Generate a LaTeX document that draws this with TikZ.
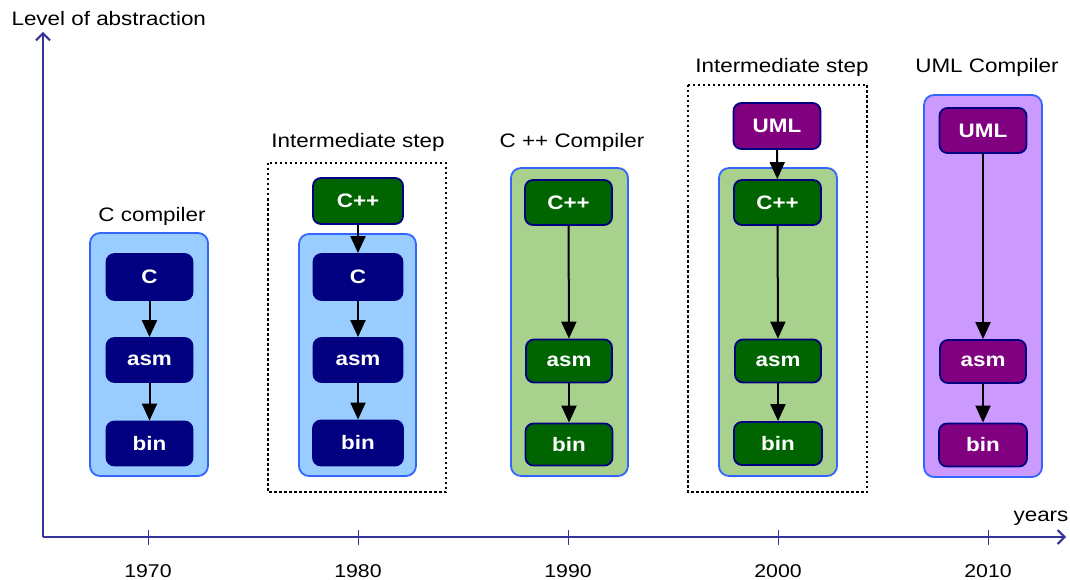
\documentclass[tikz,border=0pt]{standalone}
\usepackage{fontspec}
\setmainfont{Liberation Sans}[FakeStretch=1.15]
\usetikzlibrary{arrows.meta}
\definecolor{navyc}{HTML}{000080}
\definecolor{greenc}{HTML}{006400}
\definecolor{purplec}{HTML}{800080}
\definecolor{borderc}{HTML}{3366FF}
\definecolor{bluebg}{HTML}{99CCFF}
\definecolor{greenbg}{HTML}{A9D18E}
\definecolor{purplebg}{HTML}{CC99FF}
\definecolor{axisc}{HTML}{333399}
\tikzset{
  nd/.style={draw=navyc, line width=1.8pt, rounded corners=8pt, text=white,
    font=\bfseries\fontsize{19.5}{22}\selectfont, minimum width=87pt, minimum height=45pt, inner sep=0pt},
  ndblue/.style={nd, fill=navyc},
  ndgreen/.style={nd, fill=greenc},
  ndpurple/.style={nd, fill=purplec},
  cont/.style={draw=borderc, line width=1.8pt, rounded corners=10pt},
  dashbox/.style={draw=black, line width=1.3pt, dash pattern=on 2.5pt off 2.5pt},
  lbl/.style={font=\fontsize{19.5}{22}\selectfont, text=black},
  yearlbl/.style={font=\fontsize{18.5}{20}\selectfont, text=black, anchor=base, inner sep=0pt},
  flow/.style={draw=black, line width=2pt, -{Triangle[length=17pt,width=15pt]}},
  axis/.style={draw=axisc, line width=2pt, -{Straight Barb[length=7pt,width=14pt]}},
  tick/.style={draw=axisc, line width=0.9pt}
}
\begin{document}
\begin{tikzpicture}[x=1pt,y=-1pt]
\useasboundingbox (0,0) rectangle (1070,580);

% axes
\coordinate (origin) at (43,537);
\coordinate (ytop) at (43,32);
\coordinate (xend) at (1066,537);
\draw[axis] (origin) -- (ytop);
\draw[axis] (origin) -- (xend);
\node[lbl, anchor=west] (ylabel) at (8,19) {Level of abstraction};
\node[lbl] (xlabel) at (1041,518) {years};
\foreach \x/\y in {148/1970,358/1980,568/1990,778/2000,988/2010}{
  \draw[tick] (\x,530) -- (\x,545);
  \node[yearlbl] (yr\y) at (\x,577) {\y};
}

% 1970
\draw[cont, fill=bluebg] (90,233) rectangle (208,476);
\node[lbl] (l1) at (152,216) {C compiler};
\node[ndblue, minimum width=86pt, minimum height=46pt] (c1) at (149.5,277) {C};
\node[ndblue, minimum width=86pt, minimum height=44pt] (a1) at (149.5,360) {asm};
\node[ndblue, minimum width=86pt, minimum height=44pt] (b1) at (149.5,443.5) {bin};
\draw[flow] (c1) -- (a1);
\draw[flow] (a1) -- (b1);

% 1980
\draw[dashbox] (268,163) rectangle (446,492);
\node[lbl] (l2) at (358,142) {Intermediate step};
\draw[cont, fill=bluebg] (299,234) rectangle (416,476);
\node[ndgreen, minimum width=90pt, minimum height=46pt] (p2) at (358,201) {C++};
\node[ndblue, minimum width=89pt, minimum height=46pt] (c2) at (358,277) {C};
\node[ndblue, minimum width=89pt, minimum height=44pt] (a2) at (358,360) {asm};
\node[ndblue, minimum width=90pt, minimum height=45pt] (b2) at (358,443) {bin};
\draw[flow] (p2) -- (c2);
\draw[flow] (c2) -- (a2);
\draw[flow] (a2) -- (b2);

% 1990
\draw[cont, fill=greenbg] (511,168) rectangle (628,476);
\node[lbl] (l3) at (572,142) {C ++ Compiler};
\node[ndgreen, minimum width=87pt, minimum height=45pt] (p3) at (568.5,202.5) {C++};
\node[ndgreen, minimum width=86pt, minimum height=43pt] (a3) at (569,361) {asm};
\node[ndgreen, minimum width=87pt, minimum height=42pt] (b3) at (569,444.5) {bin};
\draw[flow] (p3) -- (a3);
\draw[flow] (a3) -- (b3);

% 2000
\draw[dashbox] (688,85) rectangle (867,492);
\node[lbl] (l4) at (782,67) {Intermediate step};
\draw[cont, fill=greenbg] (719,168) rectangle (837,476);
\node[ndpurple, minimum width=87pt, minimum height=46pt] (u4) at (777,126) {UML};
\node[ndgreen, minimum width=87pt, minimum height=45pt] (p4) at (777.5,202.5) {C++};
\node[ndgreen, minimum width=86pt, minimum height=43pt] (a4) at (778,361) {asm};
\node[ndgreen, minimum width=88pt, minimum height=43pt] (b4) at (778,443.5) {bin};
\draw[flow] (u4) -- (p4);
\draw[flow] (p4) -- (a4);
\draw[flow] (a4) -- (b4);

% 2010
\draw[cont, fill=purplebg] (924,95) rectangle (1042,477);
\node[lbl] (l5) at (987,67) {UML Compiler};
\node[ndpurple, minimum width=87pt, minimum height=45pt] (u5) at (983,130.5) {UML};
\node[ndpurple, minimum width=86pt, minimum height=43pt] (a5) at (983,361.5) {asm};
\node[ndpurple, minimum width=88pt, minimum height=43pt] (b5) at (983,445) {bin};
\draw[flow] (u5) -- (a5);
\draw[flow] (a5) -- (b5);
\end{tikzpicture}
\end{document}
